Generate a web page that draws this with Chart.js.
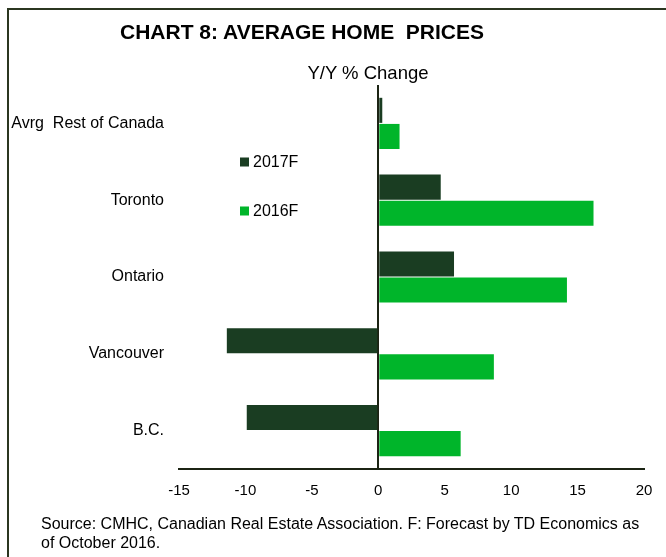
<!DOCTYPE html>
<html>
<head>
<meta charset="utf-8">
<script src="https://cdn.jsdelivr.net/npm/chart.js@4"></script>
<style>
  html, body { margin: 0; padding: 0; background: #fff; }
  #wrap { position: relative; width: 666px; height: 557px; overflow: hidden; font-family: "Liberation Sans", Arial, sans-serif; }
  #frame { position: absolute; left: 7px; top: 8px; width: 700px; height: 600px; border-left: 2px solid #2b3620; border-top: 2px solid #2b3620; }
  #title { position: absolute; left: 0; width: 604px; top: 20px; text-align: center; font-weight: bold; font-size: 21px; color: #000; }
  #subtitle { position: absolute; left: 0; width: 736px; top: 62px; text-align: center; font-size: 18.5px; color: #000; }
  #source { position: absolute; left: 41px; top: 514px; font-size: 16px; line-height: 19px; color: #000; white-space: nowrap; }
  canvas { position: absolute; left: 0; top: 0; }
</style>
</head>
<body>
<div id="wrap">
  <div id="frame"></div>
  <canvas id="chart" width="666" height="557"></canvas>
  <div id="title">CHART 8: AVERAGE HOME&nbsp; PRICES</div>
  <div id="subtitle">Y/Y % Change</div>
  <div id="source">Source: CMHC, Canadian Real Estate Association. F: Forecast by TD Economics as<br>of October 2016.</div>
</div>
<script>
const categories = ['Avrg  Rest of Canada', 'Toronto', 'Ontario', 'Vancouver', 'B.C.'];
const series2017F = [0.3, 4.7, 5.7, -11.4, -9.9];
const series2016F = [1.6, 16.2, 14.2, 8.7, 6.2];
const xTicks = [-15, -10, -5, 0, 5, 10, 15, 20];

const darkGreen = '#1a3d22';
const brightGreen = '#00b52a';

Chart.defaults.font.family = '"Liberation Sans", Arial, sans-serif';
Chart.defaults.color = '#000';

// legend drawn inside the plot, left of the zero line
const innerLegend = {
  id: 'innerLegend',
  afterDraw(chart) {
    const ctx = chart.ctx;
    ctx.save();
    ctx.font = '16px "Liberation Sans", Arial, sans-serif';
    ctx.textBaseline = 'middle';
    chart.data.datasets.forEach((ds, i) => {
      const y = 162 + i * 49;
      ctx.fillStyle = ds.backgroundColor;
      ctx.fillRect(240, y - 4.5, 9, 9);
      ctx.fillStyle = '#000';
      ctx.fillText(ds.label, 253, y + 1);
    });
    ctx.restore();
  }
};

new Chart(document.getElementById('chart'), {
  type: 'bar',
  data: {
    labels: categories,
    datasets: [
      { label: '2017F', data: series2017F, backgroundColor: darkGreen },
      { label: '2016F', data: series2016F, backgroundColor: brightGreen }
    ]
  },
  options: {
    indexAxis: 'y',
    responsive: false,
    animation: false,
    categoryPercentage: 0.68,
    barPercentage: 0.96,
    layout: { padding: { top: 85, right: 22, left: 0, bottom: 0 } },
    plugins: { legend: { display: false }, tooltip: { enabled: false } },
    scales: {
      x: {
        min: -15,
        max: 20,
        afterBuildTicks: (scale) => { scale.ticks = xTicks.map(v => ({ value: v })); },
        afterFit: (scale) => { scale.height = 88; },
        grid: {
          drawTicks: false,
          lineWidth: 2,
          color: (c) => (c.tick && c.tick.value === 0 ? '#1c2414' : 'rgba(0,0,0,0)')
        },
        border: { display: true, color: '#1c2414', width: 2 },
        ticks: { padding: 13, font: { size: 15 } }
      },
      y: {
        afterFit: (scale) => { scale.width = 179; },
        grid: { display: false },
        border: { display: false },
        ticks: { padding: 7, font: { size: 16 } }
      }
    }
  },
  plugins: [innerLegend]
});
</script>
</body>
</html>
